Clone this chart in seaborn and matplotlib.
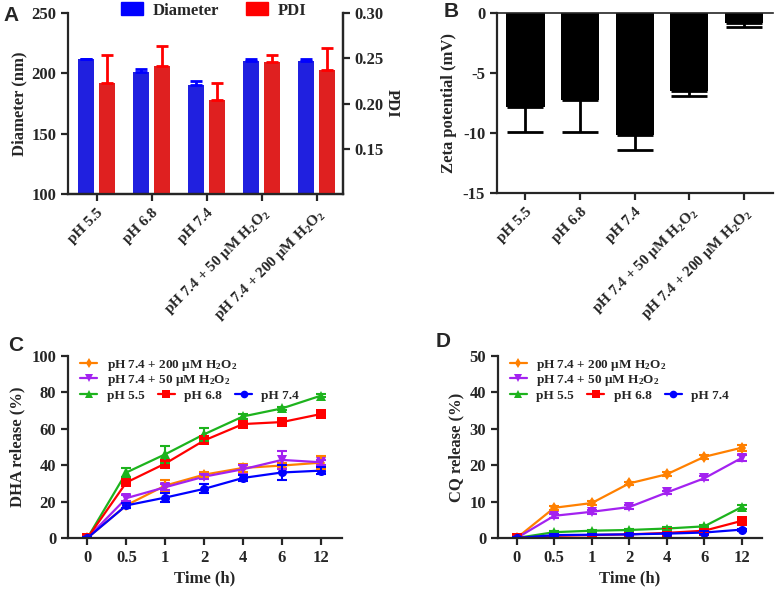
import numpy as np
import pandas as pd
import matplotlib
matplotlib.use("Agg")
import matplotlib.pyplot as plt
from matplotlib.lines import Line2D
from matplotlib.patches import Patch
from matplotlib.ticker import FormatStrFormatter
import seaborn as sns

# ---------------- data ----------------
conditions = ["pH 5.5", "pH 6.8", "pH 7.4",
              "pH 7.4 + 50 μM H$_2$O$_2$", "pH 7.4 + 200 μM H$_2$O$_2$"]
diameter = [211.5, 201.5, 190.5, 210.0, 210.5]
diameter_err = [0.7, 2.0, 3.0, 1.5, 1.0]
pdi = [0.223, 0.2415, 0.2035, 0.2455, 0.2375]
pdi_err = [0.031, 0.022, 0.019, 0.008, 0.024]
zeta = [-7.85, -7.25, -10.2, -6.5, -0.8]
zeta_err = [2.1, 2.65, 1.2, 0.45, 0.35]

times = ["0", "0.5", "1", "2", "4", "6", "12"]
series = ["pH 7.4 + 200 μM H$_2$O$_2$", "pH 7.4 + 50 μM H$_2$O$_2$",
          "pH 5.5", "pH 6.8", "pH 7.4"]

dha_200 = [0, 18.0, 28.8, 34.8, 38.5, 39.8, 41.4]
dha_200_err = [0.5, 1.5, 3.0, 1.5, 2.0, 1.5, 3.5]
dha_50 = [0, 21.9, 27.9, 33.7, 37.8, 42.9, 41.6]
dha_50_err = [0.5, 1.5, 1.5, 1.5, 2.5, 5.0, 1.5]
dha_55 = [0, 36.0, 46.0, 57.0, 66.8, 71.2, 78.2]
dha_55_err = [0.5, 2.5, 4.7, 3.5, 1.5, 1.0, 1.0]
dha_68 = [0, 30.5, 40.9, 53.6, 62.6, 63.7, 68.1]
dha_68_err = [0.5, 1.0, 1.5, 1.5, 1.5, 1.5, 1.0]
dha_74 = [0, 17.9, 22.2, 27.0, 33.0, 36.0, 37.0]
dha_74_err = [0.5, 1.5, 2.5, 2.5, 1.5, 4.0, 2.0]

cq_200 = [0, 8.3, 9.6, 15.0, 17.5, 22.3, 24.8]
cq_200_err = [0.3, 0.5, 0.5, 0.5, 0.5, 0.5, 0.8]
cq_50 = [0, 6.1, 7.2, 8.5, 12.5, 16.4, 22.0]
cq_50_err = [0.3, 0.5, 0.5, 0.5, 0.5, 0.5, 0.8]
cq_55 = [0, 1.6, 2.0, 2.2, 2.6, 3.2, 8.5]
cq_55_err = [0.2, 0.3, 0.3, 0.3, 0.3, 0.3, 0.5]
cq_68 = [0, 0.6, 0.8, 1.0, 1.4, 2.0, 4.7]
cq_68_err = [0.2, 0.2, 0.2, 0.2, 0.2, 0.3, 0.5]
cq_74 = [0, 0.8, 0.9, 1.0, 1.2, 1.5, 2.3]
cq_74_err = [0.2, 0.2, 0.2, 0.2, 0.2, 0.3, 0.3]

# ---------------- style ----------------
sns.set_style("ticks")
plt.rcParams["font.family"] = ["Liberation Serif", "DejaVu Serif"]
plt.rcParams["font.weight"] = "bold"
plt.rcParams["axes.labelweight"] = "bold"
plt.rcParams["axes.unicode_minus"] = False
plt.rcParams["mathtext.fontset"] = "custom"
plt.rcParams["mathtext.rm"] = "Liberation Serif:bold"
plt.rcParams["mathtext.bf"] = "Liberation Serif:bold"
plt.rcParams["mathtext.it"] = "Liberation Serif:bold:italic"
plt.rcParams["axes.linewidth"] = 1.6
plt.rcParams["xtick.major.width"] = 1.6
plt.rcParams["ytick.major.width"] = 1.6
plt.rcParams["xtick.major.size"] = 5
plt.rcParams["ytick.major.size"] = 5
plt.rcParams["xtick.direction"] = "out"
plt.rcParams["ytick.direction"] = "out"

FS = 12
XFS = 11
BLUE, RED = "#0000FF", "#FF0000"
colors = {series[0]: "#FF8000", series[1]: "#A322F0", series[2]: "#1DB31D",
          series[3]: "#FF0000", series[4]: "#0000FF"}
markers = {series[0]: "d", series[1]: "v", series[2]: "^", series[3]: "s", series[4]: "o"}

fig = plt.figure(figsize=(7.75, 5.89), dpi=100)

# ---------------- Panel A ----------------
axA = fig.add_axes([0.0877, 0.6706, 0.3548, 0.3073])
dfA = pd.DataFrame({"condition": conditions * 2,
                    "measure": ["Diameter"] * len(conditions) + ["PDI"] * len(conditions),
                    "value": diameter + pdi})
pal = {"Diameter": BLUE, "PDI": RED}
sns.barplot(data=dfA[dfA.measure == "Diameter"], x="condition", y="value", hue="measure",
            hue_order=["Diameter", "PDI"], order=conditions, palette=pal, width=0.77,
            gap=0.22, dodge=True, errorbar=None, legend=False, linewidth=0, ax=axA)
xs_d = [p.get_x() + p.get_width() / 2 for p in axA.patches]
axA.errorbar(xs_d, diameter, yerr=[np.zeros(len(diameter)), diameter_err], fmt="none",
             ecolor=BLUE, elinewidth=2, capsize=4, capthick=2, zorder=1)
axA2 = axA.twinx()
sns.barplot(data=dfA[dfA.measure == "PDI"], x="condition", y="value", hue="measure",
            hue_order=["Diameter", "PDI"], order=conditions, palette=pal, width=0.77,
            gap=0.22, dodge=True, errorbar=None, legend=False, linewidth=0, ax=axA2)
xs_p = [p.get_x() + p.get_width() / 2 for p in axA2.patches]
axA2.errorbar(xs_p, pdi, yerr=[np.zeros(len(pdi)), pdi_err], fmt="none",
              ecolor=RED, elinewidth=2, capsize=4, capthick=2, zorder=1)
axA.set_ylim(100, 250)
axA.set_yticks([100, 150, 200, 250])
axA2.set_ylim(0.10, 0.30)
axA2.set_yticks([0.15, 0.20, 0.25, 0.30])
axA2.yaxis.set_major_formatter(FormatStrFormatter("%.2f"))
axA.set_xlim(-0.52, len(conditions) - 0.52)
axA.set_ylabel("Diameter (nm)", fontsize=FS, labelpad=3)
axA2.set_ylabel("PDI", fontsize=FS, rotation=270, labelpad=11)
axA.set_xlabel("")
axA2.set_xlabel("")
axA.spines["top"].set_visible(False)
axA2.spines["top"].set_visible(False)
axA2.spines["left"].set_visible(False)
axA.tick_params(labelsize=FS)
axA2.tick_params(labelsize=FS)
axA.set_xticks(range(len(conditions)))
axA.set_xticklabels(conditions, rotation=45, ha="right", rotation_mode="anchor", fontsize=XFS)
axA2.legend(handles=[Patch(color=BLUE, label="Diameter"), Patch(color=RED, label="PDI")],
            loc="center", bbox_to_anchor=(0.53, 1.015), ncol=2, frameon=False,
            handlelength=1.3, handleheight=0.85, handletextpad=0.6, columnspacing=1.6,
            fontsize=FS)

# ---------------- Panel B ----------------
axB = fig.add_axes([0.6413, 0.6723, 0.356, 0.3056])
sns.barplot(x=conditions, y=zeta, color="black", width=0.7, errorbar=None,
            linewidth=0, ax=axB)
xs_z = [p.get_x() + p.get_width() / 2 for p in axB.patches]
axB.errorbar(xs_z, zeta, yerr=[zeta_err, np.zeros(len(zeta))], fmt="none",
             ecolor="black", elinewidth=2, capsize=13, capthick=2)
axB.set_ylim(-15, 0)
axB.set_yticks([-15, -10, -5, 0])
axB.set_xlim(-0.52, len(conditions) - 0.47)
axB.set_ylabel("Zeta potential (mV)", fontsize=FS)
axB.spines["right"].set_visible(False)
axB.spines["top"].set_linewidth(1.2)
axB.tick_params(labelsize=FS)
axB.set_xticks(range(len(conditions)))
axB.set_xticklabels(conditions, rotation=45, ha="right", rotation_mode="anchor", fontsize=XFS)


# ---------------- Panels C & D ----------------
def release_panel(ax, vals, errs, ylabel, ymax, ystep):
    idx = list(range(len(times)))
    df = pd.DataFrame({"t": idx * len(series),
                       "series": [s for s in series for _ in idx],
                       "value": [v for arr in vals for v in arr]})
    sns.lineplot(data=df, x="t", y="value", hue="series", style="series",
                 hue_order=series, style_order=series, palette=colors,
                 markers=markers, dashes=False, markersize=6.5, markeredgewidth=0,
                 linewidth=1.6, legend=False, ax=ax)
    for s, v, e in zip(series, vals, errs):
        ax.errorbar(idx, v, yerr=e, fmt="none", ecolor=colors[s], elinewidth=1.5,
                    capsize=3.5, capthick=1.5)
    ax.set_ylim(0, ymax)
    ax.set_yticks(np.arange(0, ymax + 1, ystep))
    ax.set_xlim(-0.5, len(times) - 0.46)
    ax.set_xticks(idx)
    ax.set_xticklabels(times, fontsize=FS)
    ax.tick_params(labelsize=FS)
    ax.set_xlabel("Time (h)", fontsize=FS, labelpad=3)
    ax.set_ylabel(ylabel, fontsize=FS)
    ax.spines["top"].set_visible(False)
    ax.spines["right"].set_visible(False)
    handles = [Line2D([], [], color=colors[s], marker=markers[s], markersize=5.5,
                      markeredgewidth=0, linewidth=1.6, label=s) for s in series]
    leg1 = ax.legend(handles=handles[:2], loc="upper left", bbox_to_anchor=(0.045, 0.99),
                     frameon=False, fontsize=9.5, handlelength=1.3, handletextpad=0.7,
                     labelspacing=0.0, borderpad=0, borderaxespad=0)
    ax.add_artist(leg1)
    ax.legend(handles=handles[2:], loc="upper left", bbox_to_anchor=(0.045, 0.815),
              frameon=False, fontsize=9.5, handlelength=1.3, handletextpad=0.7, ncol=3,
              columnspacing=1.0, borderpad=0, borderaxespad=0)


axC = fig.add_axes([0.0877, 0.0866, 0.3535, 0.309])
release_panel(axC, [dha_200, dha_50, dha_55, dha_68, dha_74],
              [dha_200_err, dha_50_err, dha_55_err, dha_68_err, dha_74_err],
              "DHA release (%)", 100, 20)
axD = fig.add_axes([0.6426, 0.0866, 0.3406, 0.309])
release_panel(axD, [cq_200, cq_50, cq_55, cq_68, cq_74],
              [cq_200_err, cq_50_err, cq_55_err, cq_68_err, cq_74_err],
              "CQ release (%)", 50, 10)

# ---------------- panel letters ----------------
for lx, ly, letter in [(0.004, 0.990, "A"), (0.572, 0.997, "B"),
                       (0.011, 0.430, "C"), (0.562, 0.437, "D")]:
    fig.text(lx, ly, letter, fontfamily="Liberation Sans", fontweight="bold",
             fontsize=15, va="top", ha="left")

fig.savefig("out.png", dpi=100)
